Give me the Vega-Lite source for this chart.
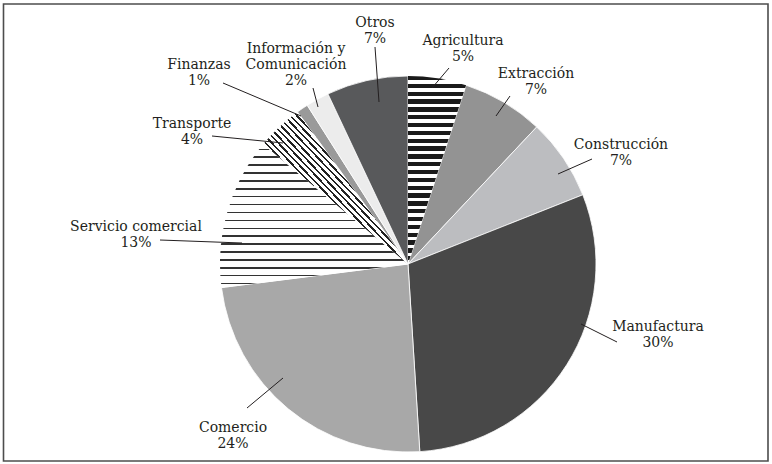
{
  "$schema": "https://vega.github.io/schema/vega-lite/v6.json",
  "width": 728,
  "height": 396,
  "autosize": "none",
  "padding": {"left": 44, "top": 66, "right": 0, "bottom": 2},
  "background": "white",
  "config": {"view": {"stroke": null}},
  "datasets": {
    "sectors": [
      {"sector": "Agricultura", "pct": 5, "order": 1},
      {"sector": "Extracción", "pct": 7, "order": 2},
      {"sector": "Construcción", "pct": 7, "order": 3},
      {"sector": "Manufactura", "pct": 30, "order": 4},
      {"sector": "Comercio", "pct": 24, "order": 5},
      {"sector": "Servicio comercial", "pct": 13, "order": 6},
      {"sector": "Transporte", "pct": 4, "order": 7},
      {"sector": "Finanzas", "pct": 1, "order": 8},
      {"sector": "Información y Comunicación", "pct": 2, "order": 9},
      {"sector": "Otros", "pct": 7, "order": 10}
    ],
    "labels": [
      {"lbl": "Otros\n7%", "lx": -33, "ly": 237},
      {"lbl": "Información y\nComunicación\n2%", "lx": -112, "ly": 211},
      {"lbl": "Finanzas\n1%", "lx": -209, "ly": 195},
      {"lbl": "Agricultura\n5%", "lx": 55, "ly": 219},
      {"lbl": "Extracción\n7%", "lx": 128, "ly": 186},
      {"lbl": "Construcción\n7%", "lx": 213, "ly": 115},
      {"lbl": "Manufactura\n30%", "lx": 250, "ly": -67},
      {"lbl": "Comercio\n24%", "lx": -175, "ly": -168},
      {"lbl": "Servicio comercial\n13%", "lx": -272, "ly": 33},
      {"lbl": "Transporte\n4%", "lx": -216, "ly": 136}
    ],
    "leaders": [
      {"x1": -33, "y1": 217, "x2": -29, "y2": 162},
      {"x1": -95, "y1": 176, "x2": -90, "y2": 157},
      {"x1": -185, "y1": 181, "x2": -107, "y2": 148},
      {"x1": -196, "y1": 128, "x2": -125, "y2": 121},
      {"x1": -248, "y1": 24, "x2": -166, "y2": 21},
      {"x1": -161, "y1": -144, "x2": -125, "y2": -114},
      {"x1": 173, "y1": -60, "x2": 209, "y2": -78},
      {"x1": 150, "y1": 90, "x2": 184, "y2": 105},
      {"x1": 102, "y1": 168, "x2": 88, "y2": 148},
      {"x1": 41, "y1": 196, "x2": 24, "y2": 176}
    ],
    "frame": [
      {"x1": -404.5, "x2": 360, "y1": 260, "y2": -197}
    ]
  },
  "layer": [
    {
      "data": {"name": "frame"},
      "mark": {"type": "rect", "fillOpacity": 0, "stroke": "#4d4d4d", "strokeWidth": 1.6},
      "encoding": {
        "x": {"field": "x1", "type": "quantitative", "scale": {"domain": [-364, 364], "nice": false, "zero": false}, "axis": null},
        "x2": {"field": "x2"},
        "y": {"field": "y1", "type": "quantitative", "scale": {"domain": [-198, 198], "nice": false, "zero": false}, "axis": null},
        "y2": {"field": "y2"}
      }
    },
    {
      "data": {"name": "sectors"},
      "transform": [
        {"stack": "pct", "groupby": [], "sort": [{"field": "order", "order": "ascending"}], "as": ["v0", "v1"]}
      ],
      "mark": {"type": "arc", "radius": 188, "stroke": "white", "strokeWidth": 0.8},
      "encoding": {
        "theta": {"field": "v0", "type": "quantitative", "scale": {"domain": [0, 100]}},
        "theta2": {"field": "v1"},
        "color": {
          "field": "sector",
          "type": "nominal",
          "legend": null,
          "scale": {
            "domain": ["Agricultura", "Extracción", "Construcción", "Manufactura", "Comercio", "Servicio comercial", "Transporte", "Finanzas", "Información y Comunicación", "Otros"],
            "range": ["#ffffff", "#939393", "#bcbdc0", "#484848", "#a8a8a8", "#ffffff", "#ffffff", "#9a9a9a", "#ececec", "#58595b"]
          }
        }
      }
    },
    {
      "data": {"name": "sectors"},
      "transform": [
        {"stack": "pct", "groupby": [], "sort": [{"field": "order", "order": "ascending"}], "as": ["v0", "v1"]},
        {"filter": "datum.sector === 'Agricultura'"}
      ],
      "mark": {
        "type": "arc",
        "radius": 188,
        "color": {
          "gradient": "linear", "x1": 0, "y1": 0, "x2": 0, "y2": 1,
          "stops": [
            {"offset": 0, "color": "#1a1a1a"}, {"offset": 0.0229, "color": "#1a1a1a"}, {"offset": 0.0229, "color": "#ffffff"}, {"offset": 0.0417, "color": "#ffffff"},
            {"offset": 0.0417, "color": "#1a1a1a"}, {"offset": 0.0646, "color": "#1a1a1a"}, {"offset": 0.0646, "color": "#ffffff"}, {"offset": 0.0833, "color": "#ffffff"},
            {"offset": 0.0833, "color": "#1a1a1a"}, {"offset": 0.1063, "color": "#1a1a1a"}, {"offset": 0.1063, "color": "#ffffff"}, {"offset": 0.125, "color": "#ffffff"},
            {"offset": 0.125, "color": "#1a1a1a"}, {"offset": 0.1479, "color": "#1a1a1a"}, {"offset": 0.1479, "color": "#ffffff"}, {"offset": 0.1667, "color": "#ffffff"},
            {"offset": 0.1667, "color": "#1a1a1a"}, {"offset": 0.1896, "color": "#1a1a1a"}, {"offset": 0.1896, "color": "#ffffff"}, {"offset": 0.2083, "color": "#ffffff"},
            {"offset": 0.2083, "color": "#1a1a1a"}, {"offset": 0.2313, "color": "#1a1a1a"}, {"offset": 0.2313, "color": "#ffffff"}, {"offset": 0.25, "color": "#ffffff"},
            {"offset": 0.25, "color": "#1a1a1a"}, {"offset": 0.2729, "color": "#1a1a1a"}, {"offset": 0.2729, "color": "#ffffff"}, {"offset": 0.2917, "color": "#ffffff"},
            {"offset": 0.2917, "color": "#1a1a1a"}, {"offset": 0.3146, "color": "#1a1a1a"}, {"offset": 0.3146, "color": "#ffffff"}, {"offset": 0.3333, "color": "#ffffff"},
            {"offset": 0.3333, "color": "#1a1a1a"}, {"offset": 0.3563, "color": "#1a1a1a"}, {"offset": 0.3563, "color": "#ffffff"}, {"offset": 0.375, "color": "#ffffff"},
            {"offset": 0.375, "color": "#1a1a1a"}, {"offset": 0.3979, "color": "#1a1a1a"}, {"offset": 0.3979, "color": "#ffffff"}, {"offset": 0.4167, "color": "#ffffff"},
            {"offset": 0.4167, "color": "#1a1a1a"}, {"offset": 0.4396, "color": "#1a1a1a"}, {"offset": 0.4396, "color": "#ffffff"}, {"offset": 0.4583, "color": "#ffffff"},
            {"offset": 0.4583, "color": "#1a1a1a"}, {"offset": 0.4813, "color": "#1a1a1a"}, {"offset": 0.4813, "color": "#ffffff"}, {"offset": 0.5, "color": "#ffffff"},
            {"offset": 0.5, "color": "#1a1a1a"}, {"offset": 0.5229, "color": "#1a1a1a"}, {"offset": 0.5229, "color": "#ffffff"}, {"offset": 0.5417, "color": "#ffffff"},
            {"offset": 0.5417, "color": "#1a1a1a"}, {"offset": 0.5646, "color": "#1a1a1a"}, {"offset": 0.5646, "color": "#ffffff"}, {"offset": 0.5833, "color": "#ffffff"},
            {"offset": 0.5833, "color": "#1a1a1a"}, {"offset": 0.6063, "color": "#1a1a1a"}, {"offset": 0.6063, "color": "#ffffff"}, {"offset": 0.625, "color": "#ffffff"},
            {"offset": 0.625, "color": "#1a1a1a"}, {"offset": 0.6479, "color": "#1a1a1a"}, {"offset": 0.6479, "color": "#ffffff"}, {"offset": 0.6667, "color": "#ffffff"},
            {"offset": 0.6667, "color": "#1a1a1a"}, {"offset": 0.6896, "color": "#1a1a1a"}, {"offset": 0.6896, "color": "#ffffff"}, {"offset": 0.7083, "color": "#ffffff"},
            {"offset": 0.7083, "color": "#1a1a1a"}, {"offset": 0.7313, "color": "#1a1a1a"}, {"offset": 0.7313, "color": "#ffffff"}, {"offset": 0.75, "color": "#ffffff"},
            {"offset": 0.75, "color": "#1a1a1a"}, {"offset": 0.7729, "color": "#1a1a1a"}, {"offset": 0.7729, "color": "#ffffff"}, {"offset": 0.7917, "color": "#ffffff"},
            {"offset": 0.7917, "color": "#1a1a1a"}, {"offset": 0.8146, "color": "#1a1a1a"}, {"offset": 0.8146, "color": "#ffffff"}, {"offset": 0.8333, "color": "#ffffff"},
            {"offset": 0.8333, "color": "#1a1a1a"}, {"offset": 0.8563, "color": "#1a1a1a"}, {"offset": 0.8563, "color": "#ffffff"}, {"offset": 0.875, "color": "#ffffff"},
            {"offset": 0.875, "color": "#1a1a1a"}, {"offset": 0.8979, "color": "#1a1a1a"}, {"offset": 0.8979, "color": "#ffffff"}, {"offset": 0.9167, "color": "#ffffff"},
            {"offset": 0.9167, "color": "#1a1a1a"}, {"offset": 0.9396, "color": "#1a1a1a"}, {"offset": 0.9396, "color": "#ffffff"}, {"offset": 0.9583, "color": "#ffffff"},
            {"offset": 0.9583, "color": "#1a1a1a"}, {"offset": 0.9813, "color": "#1a1a1a"}, {"offset": 0.9813, "color": "#ffffff"}, {"offset": 1, "color": "#ffffff"}
          ]
        }
      },
      "encoding": {
        "theta": {"field": "v0", "type": "quantitative", "scale": {"domain": [0, 100]}},
        "theta2": {"field": "v1"}
      }
    },
    {
      "data": {"name": "sectors"},
      "transform": [
        {"stack": "pct", "groupby": [], "sort": [{"field": "order", "order": "ascending"}], "as": ["v0", "v1"]},
        {"filter": "datum.sector === 'Servicio comercial'"}
      ],
      "mark": {
        "type": "arc",
        "radius": 188,
        "color": {
          "gradient": "linear", "x1": 0, "y1": 0, "x2": 0, "y2": 1,
          "stops": [
            {"offset": 0, "color": "#ffffff"},
            {"offset": 0.0307, "color": "#ffffff"}, {"offset": 0.0307, "color": "#333333"}, {"offset": 0.0412, "color": "#333333"}, {"offset": 0.0412, "color": "#ffffff"},
            {"offset": 0.0858, "color": "#ffffff"}, {"offset": 0.0858, "color": "#333333"}, {"offset": 0.0963, "color": "#333333"}, {"offset": 0.0963, "color": "#ffffff"},
            {"offset": 0.1409, "color": "#ffffff"}, {"offset": 0.1409, "color": "#333333"}, {"offset": 0.1514, "color": "#333333"}, {"offset": 0.1514, "color": "#ffffff"},
            {"offset": 0.196, "color": "#ffffff"}, {"offset": 0.196, "color": "#333333"}, {"offset": 0.2065, "color": "#333333"}, {"offset": 0.2065, "color": "#ffffff"},
            {"offset": 0.251, "color": "#ffffff"}, {"offset": 0.251, "color": "#333333"}, {"offset": 0.2615, "color": "#333333"}, {"offset": 0.2615, "color": "#ffffff"},
            {"offset": 0.3061, "color": "#ffffff"}, {"offset": 0.3061, "color": "#333333"}, {"offset": 0.3166, "color": "#333333"}, {"offset": 0.3166, "color": "#ffffff"},
            {"offset": 0.3612, "color": "#ffffff"}, {"offset": 0.3612, "color": "#333333"}, {"offset": 0.3717, "color": "#333333"}, {"offset": 0.3717, "color": "#ffffff"},
            {"offset": 0.4163, "color": "#ffffff"}, {"offset": 0.4163, "color": "#333333"}, {"offset": 0.4268, "color": "#333333"}, {"offset": 0.4268, "color": "#ffffff"},
            {"offset": 0.4714, "color": "#ffffff"}, {"offset": 0.4714, "color": "#333333"}, {"offset": 0.4819, "color": "#333333"}, {"offset": 0.4819, "color": "#ffffff"},
            {"offset": 0.5265, "color": "#ffffff"}, {"offset": 0.5265, "color": "#333333"}, {"offset": 0.537, "color": "#333333"}, {"offset": 0.537, "color": "#ffffff"},
            {"offset": 0.5816, "color": "#ffffff"}, {"offset": 0.5816, "color": "#333333"}, {"offset": 0.5921, "color": "#333333"}, {"offset": 0.5921, "color": "#ffffff"},
            {"offset": 0.6367, "color": "#ffffff"}, {"offset": 0.6367, "color": "#333333"}, {"offset": 0.6472, "color": "#333333"}, {"offset": 0.6472, "color": "#ffffff"},
            {"offset": 0.6918, "color": "#ffffff"}, {"offset": 0.6918, "color": "#333333"}, {"offset": 0.7023, "color": "#333333"}, {"offset": 0.7023, "color": "#ffffff"},
            {"offset": 0.7469, "color": "#ffffff"}, {"offset": 0.7469, "color": "#333333"}, {"offset": 0.7574, "color": "#333333"}, {"offset": 0.7574, "color": "#ffffff"},
            {"offset": 0.802, "color": "#ffffff"}, {"offset": 0.802, "color": "#333333"}, {"offset": 0.8125, "color": "#333333"}, {"offset": 0.8125, "color": "#ffffff"},
            {"offset": 0.8571, "color": "#ffffff"}, {"offset": 0.8571, "color": "#333333"}, {"offset": 0.8676, "color": "#333333"}, {"offset": 0.8676, "color": "#ffffff"},
            {"offset": 0.9121, "color": "#ffffff"}, {"offset": 0.9121, "color": "#333333"}, {"offset": 0.9226, "color": "#333333"}, {"offset": 0.9226, "color": "#ffffff"},
            {"offset": 0.9672, "color": "#ffffff"}, {"offset": 0.9672, "color": "#333333"}, {"offset": 0.9777, "color": "#333333"}, {"offset": 0.9777, "color": "#ffffff"},
            {"offset": 1, "color": "#ffffff"}
          ]
        }
      },
      "encoding": {
        "theta": {"field": "v0", "type": "quantitative", "scale": {"domain": [0, 100]}},
        "theta2": {"field": "v1"}
      }
    },
    {
      "data": {"name": "sectors"},
      "transform": [
        {"stack": "pct", "groupby": [], "sort": [{"field": "order", "order": "ascending"}], "as": ["v0", "v1"]},
        {"filter": "datum.sector === 'Transporte'"}
      ],
      "mark": {
        "type": "arc",
        "radius": 188,
        "color": {
          "gradient": "linear", "x1": 0, "y1": 1, "x2": 1, "y2": 0,
          "stops": [
            {"offset": 0, "color": "#ffffff"},
            {"offset": 0.38, "color": "#ffffff"}, {"offset": 0.38, "color": "#222222"}, {"offset": 0.388, "color": "#222222"}, {"offset": 0.388, "color": "#ffffff"},
            {"offset": 0.402, "color": "#ffffff"}, {"offset": 0.402, "color": "#222222"}, {"offset": 0.41, "color": "#222222"}, {"offset": 0.41, "color": "#ffffff"},
            {"offset": 0.424, "color": "#ffffff"}, {"offset": 0.424, "color": "#222222"}, {"offset": 0.432, "color": "#222222"}, {"offset": 0.432, "color": "#ffffff"},
            {"offset": 0.446, "color": "#ffffff"}, {"offset": 0.446, "color": "#222222"}, {"offset": 0.454, "color": "#222222"}, {"offset": 0.454, "color": "#ffffff"},
            {"offset": 0.468, "color": "#ffffff"}, {"offset": 0.468, "color": "#222222"}, {"offset": 0.476, "color": "#222222"}, {"offset": 0.476, "color": "#ffffff"},
            {"offset": 0.49, "color": "#ffffff"}, {"offset": 0.49, "color": "#222222"}, {"offset": 0.498, "color": "#222222"}, {"offset": 0.498, "color": "#ffffff"},
            {"offset": 0.512, "color": "#ffffff"}, {"offset": 0.512, "color": "#222222"}, {"offset": 0.52, "color": "#222222"}, {"offset": 0.52, "color": "#ffffff"},
            {"offset": 0.534, "color": "#ffffff"}, {"offset": 0.534, "color": "#222222"}, {"offset": 0.542, "color": "#222222"}, {"offset": 0.542, "color": "#ffffff"},
            {"offset": 0.556, "color": "#ffffff"}, {"offset": 0.556, "color": "#222222"}, {"offset": 0.564, "color": "#222222"}, {"offset": 0.564, "color": "#ffffff"},
            {"offset": 0.578, "color": "#ffffff"}, {"offset": 0.578, "color": "#222222"}, {"offset": 0.586, "color": "#222222"}, {"offset": 0.586, "color": "#ffffff"},
            {"offset": 0.6, "color": "#ffffff"}, {"offset": 0.6, "color": "#222222"}, {"offset": 0.608, "color": "#222222"}, {"offset": 0.608, "color": "#ffffff"},
            {"offset": 0.622, "color": "#ffffff"}, {"offset": 0.622, "color": "#222222"}, {"offset": 0.63, "color": "#222222"}, {"offset": 0.63, "color": "#ffffff"},
            {"offset": 1, "color": "#ffffff"}
          ]
        }
      },
      "encoding": {
        "theta": {"field": "v0", "type": "quantitative", "scale": {"domain": [0, 100]}},
        "theta2": {"field": "v1"}
      }
    },
    {
      "data": {"name": "leaders"},
      "mark": {"type": "rule", "color": "#231f20", "strokeWidth": 1},
      "encoding": {
        "x": {"field": "x1", "type": "quantitative", "scale": {"domain": [-364, 364], "nice": false, "zero": false}, "axis": null},
        "y": {"field": "y1", "type": "quantitative", "scale": {"domain": [-198, 198], "nice": false, "zero": false}, "axis": null},
        "x2": {"field": "x2"},
        "y2": {"field": "y2"}
      }
    },
    {
      "data": {"name": "labels"},
      "mark": {"type": "text", "font": "DejaVu Serif", "fontSize": 14, "align": "center", "baseline": "alphabetic", "lineBreak": "\n", "lineHeight": 16, "color": "#231f20"},
      "encoding": {
        "x": {"field": "lx", "type": "quantitative", "scale": {"domain": [-364, 364], "nice": false, "zero": false}, "axis": null},
        "y": {"field": "ly", "type": "quantitative", "scale": {"domain": [-198, 198], "nice": false, "zero": false}, "axis": null},
        "text": {"field": "lbl", "type": "nominal"}
      }
    }
  ]
}
